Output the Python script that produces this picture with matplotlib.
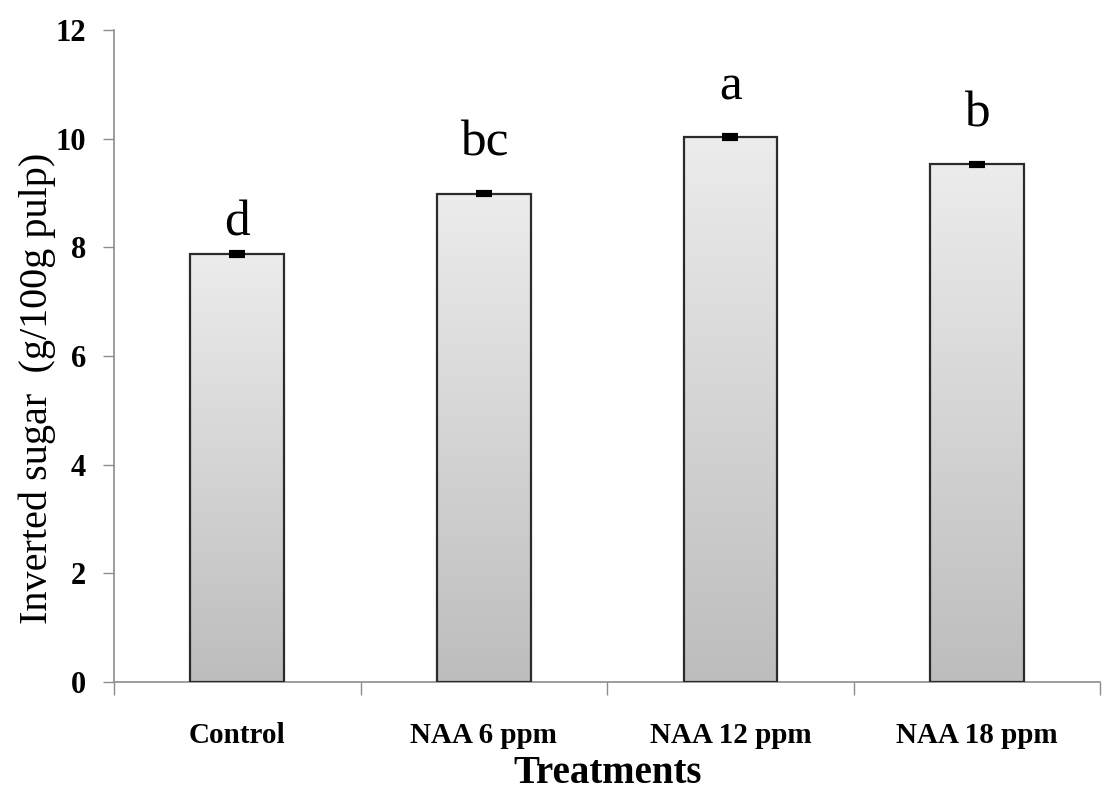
import numpy as np
import matplotlib
matplotlib.use("Agg")
import matplotlib.pyplot as plt
from matplotlib.colors import LinearSegmentedColormap

# Data
treatments = ["Control", "NAA 6 ppm", "NAA 12 ppm", "NAA 18 ppm"]
inverted_sugar = [7.88, 8.99, 10.03, 9.53]
std_error = [0.03, 0.03, 0.03, 0.03]
letters = ["d", "bc", "a", "b"]
yticks = [0, 2, 4, 6, 8, 10, 12]

plt.rcParams["font.family"] = ["Liberation Serif", "DejaVu Serif"]

fig = plt.figure(figsize=(11.07, 7.92), dpi=100)
ax = fig.add_axes([0.103, 0.139, 0.891, 0.823])

x = np.arange(len(treatments))
bar_w = 0.38
bars = ax.bar(x, inverted_sugar, width=bar_w, color="none",
              edgecolor="#2b2b2b", linewidth=1.6, zorder=3)

# vertical grey gradient inside each bar
cmap = LinearSegmentedColormap.from_list("grey_grad", ["#bdbdbd", "#ececec"])
grad = np.linspace(0, 1, 256).reshape(-1, 1)
for b in bars:
    x0, y0 = b.get_x(), b.get_y()
    w, h = b.get_width(), b.get_height()
    im = ax.imshow(grad, cmap=cmap, origin="lower", aspect="auto",
                   extent=[x0, x0 + w, y0, y0 + h], zorder=2,
                   interpolation="bicubic")
    im.set_clip_path(b)

ax.errorbar(x, inverted_sugar, yerr=std_error, fmt="none", ecolor="black",
            elinewidth=2, capsize=6, capthick=3, zorder=4)

label_pad = [4, 18, 18, 18]
for xi, v, e, lab, pad in zip(x, inverted_sugar, std_error, letters, label_pad):
    ax.annotate(lab, (xi, v + e), xytext=(0, pad), textcoords="offset points",
                ha="center", va="bottom", fontsize=37, color="black")

ax.set_xlim(-0.5, len(treatments) - 0.5)
ax.set_ylim(0, 12)

# category boundaries carry the tick marks, centers carry the labels
ax.set_xticks(np.arange(-0.5, len(treatments) + 0.5, 1.0))
ax.set_xticklabels([])
ax.set_xticks(x, minor=True)
ax.set_xticklabels(treatments, minor=True, fontsize=21, fontweight="bold")
ax.tick_params(axis="x", which="major", length=9, width=1, color="#8c8c8c",
               direction="out")
ax.tick_params(axis="x", which="minor", length=0, pad=29)

ax.set_yticks(yticks)
ax.set_yticklabels([str(t) for t in yticks], fontsize=22, fontweight="bold")
ax.tick_params(axis="y", length=8, width=1, color="#8c8c8c",
               direction="out", pad=12)

for side in ("top", "right"):
    ax.spines[side].set_visible(False)
for side in ("left", "bottom"):
    ax.spines[side].set_color("#8c8c8c")
    ax.spines[side].set_linewidth(1.2)

ax.set_ylabel("Inverted sugar  (g/100g pulp)", fontsize=29)
ax.yaxis.set_label_coords(-0.059, 0.45)
ax.set_xlabel("Treatments", fontsize=28, fontweight="bold", labelpad=4)

fig.savefig("out.png", dpi=100, facecolor="white")
